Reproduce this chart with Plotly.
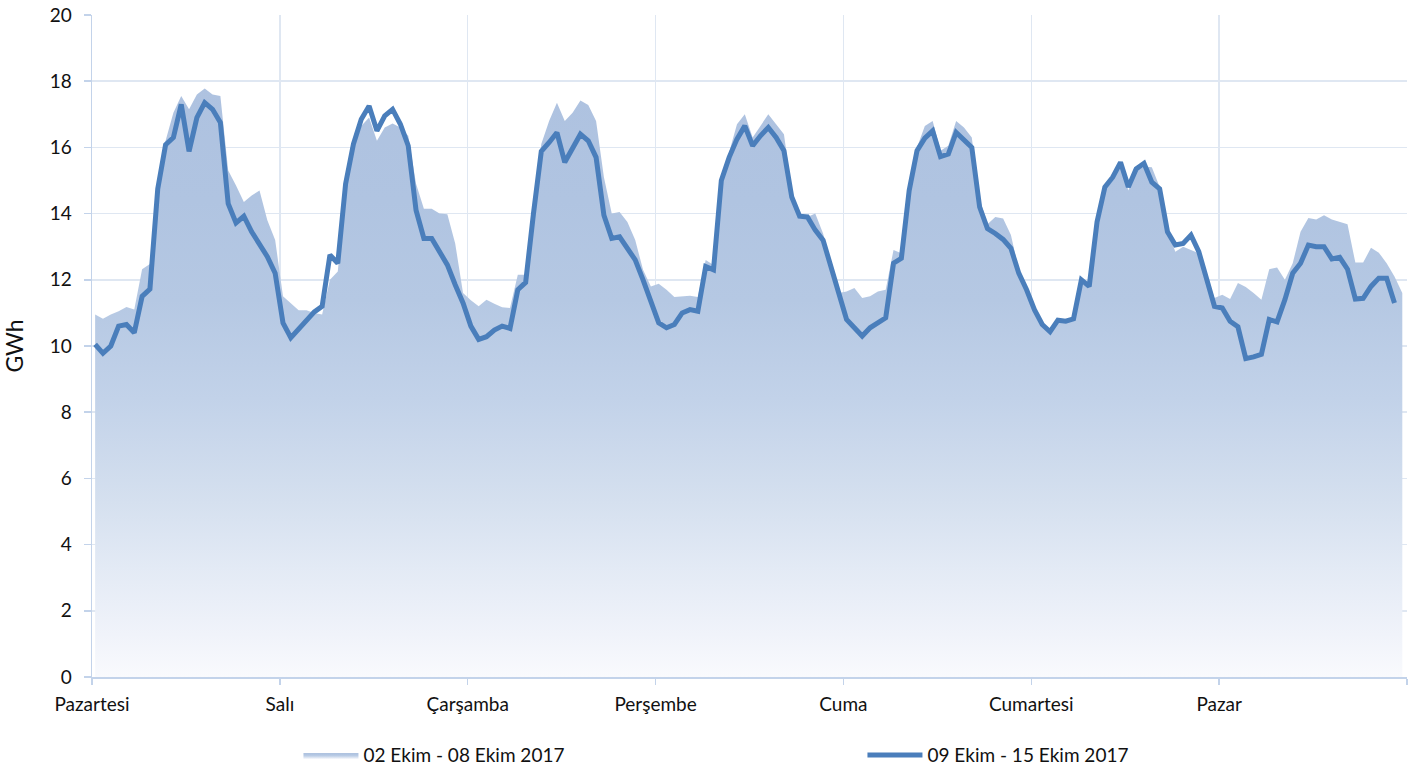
import plotly.graph_objects as go

# Hourly consumption, GWh
days = ["Pazartesi", "Salı", "Çarşamba", "Perşembe", "Cuma", "Cumartesi", "Pazar", ""]

week1_name = "02 Ekim - 08 Ekim 2017"
week1 = [
    # Pazartesi
    10.95, 10.82, 10.95, 11.05, 11.18, 11.1, 12.32, 12.48, 14.8, 16.2, 17.05, 17.55,
    17.15, 17.6, 17.78, 17.6, 17.55, 15.3, 14.85, 14.35, 14.55, 14.7, 13.8, 13.2,
    # Salı
    11.5, 11.28, 11.08, 11.08, 11.0, 10.95, 12.0, 12.25, 14.7, 16.0, 16.65, 16.9,
    16.2, 16.6, 16.72, 16.6, 16.35, 14.9, 14.15, 14.15, 14.0, 13.98, 13.1, 11.6,
    # Çarşamba
    11.38, 11.2, 11.4, 11.28, 11.17, 11.15, 12.15, 12.15, 14.2, 16.1, 16.8, 17.35,
    16.8, 17.05, 17.42, 17.28, 16.8, 15.1, 14.0, 14.05, 13.75, 13.2, 12.3, 11.8,
    # Perşembe
    11.88, 11.7, 11.48, 11.5, 11.52, 11.48, 12.6, 12.45, 15.0, 15.85, 16.7, 17.0,
    16.3, 16.65, 17.0, 16.7, 16.4, 14.7, 13.95, 13.9, 14.0, 13.4, 12.5, 11.6,
    # Cuma
    11.65, 11.75, 11.45, 11.5, 11.65, 11.7, 12.9, 12.8, 15.0, 16.0, 16.65, 16.8,
    15.9, 16.05, 16.8, 16.6, 16.3, 14.45, 13.68, 13.9, 13.85, 13.35, 12.3, 11.7,
    # Cumartesi
    11.1, 10.6, 10.35, 10.7, 10.75, 10.85, 11.9, 11.75, 13.7, 14.7, 15.0, 15.5,
    14.7, 15.3, 15.42, 15.4, 14.8, 13.5, 12.85, 13.0, 12.9, 12.8, 12.1, 11.45,
    # Pazar
    11.55, 11.42, 11.9, 11.78, 11.6, 11.4, 12.32, 12.37, 12.0, 12.5, 13.45, 13.87,
    13.82, 13.95, 13.82, 13.75, 13.68, 12.52, 12.52, 12.97, 12.82, 12.5, 12.1, 11.6,
]

week2_name = "09 Ekim - 15 Ekim 2017"
week2 = [
    # Pazartesi
    10.05, 9.78, 10.0, 10.6, 10.65, 10.4, 11.5, 11.72, 14.75, 16.08, 16.3, 17.3,
    15.88, 16.9, 17.35, 17.15, 16.75, 14.3, 13.72, 13.92, 13.45, 13.05, 12.7, 12.2,
    # Salı
    10.7, 10.25, 10.5, 10.78, 11.03, 11.2, 12.75, 12.5, 14.9, 16.1, 16.85, 17.25,
    16.5, 16.95, 17.15, 16.7, 16.05, 14.1, 13.25, 13.25, 12.85, 12.45, 11.85, 11.3,
    # Çarşamba
    10.6, 10.2, 10.28, 10.48, 10.6, 10.53, 11.7, 11.92, 14.0, 15.88, 16.15, 16.45,
    15.55, 15.95, 16.4, 16.2, 15.7, 13.95, 13.25, 13.3, 12.95, 12.6, 12.0, 11.35,
    # Perşembe
    10.7, 10.55, 10.65, 11.0, 11.1, 11.05, 12.4, 12.3, 15.0, 15.7, 16.25, 16.65,
    16.05, 16.35, 16.6, 16.3, 15.9, 14.5, 13.92, 13.9, 13.5, 13.2, 12.35, 11.6,
    # Cuma
    10.8, 10.55, 10.3, 10.55, 10.7, 10.85, 12.5, 12.65, 14.7, 15.9, 16.28, 16.5,
    15.72, 15.8, 16.45, 16.22, 16.0, 14.2, 13.55, 13.4, 13.22, 12.95, 12.2, 11.7,
    # Cumartesi
    11.1, 10.65, 10.43, 10.78, 10.75, 10.82, 12.0, 11.8, 13.75, 14.8, 15.1, 15.55,
    14.8, 15.35, 15.52, 14.95, 14.75, 13.45, 13.05, 13.1, 13.35, 12.85, 12.05, 11.2,
    # Pazar
    11.15, 10.75, 10.58, 9.62, 9.67, 9.75, 10.8, 10.73, 11.4, 12.2, 12.5, 13.05,
    13.0, 13.0, 12.63, 12.68, 12.32, 11.42, 11.44, 11.8, 12.05, 12.05, 11.3,
]

y_ticks = list(range(0, 21, 2))

hours1 = list(range(len(week1)))
hours2 = list(range(len(week2)))
tick_pos = [i * 24 - 0.4 for i in range(len(days))]

FONT = "Lato"
TXT = "#111111"
GRID = "#dfe7f2"
AXIS = "#c3d3ea"

fig = go.Figure()

fig.add_trace(go.Scatter(
    x=hours1, y=week1, name=week1_name, mode="lines",
    line=dict(width=0, color="rgba(0,0,0,0)"),
    fill="tozeroy",
    fillcolor="#b3c6e2",
    fillgradient=dict(
        type="vertical", start=0, stop=18,
        colorscale=[
            [0.0, "#f9fafd"], [0.072, "#f0f3fa"], [0.183, "#e3eaf5"],
            [0.294, "#d5e0ef"], [0.467, "#c2d2e9"], [0.633, "#b5c8e3"],
            [0.8, "#b0c4e1"], [1.0, "#aec2e0"],
        ],
    ),
    hoverinfo="skip",
))

fig.add_trace(go.Scatter(
    x=hours2, y=week2, name=week2_name, mode="lines",
    line=dict(width=5, color="#4a7ebb"),
    hoverinfo="skip",
))

fig.update_layout(
    width=1416, height=770,
    margin=dict(l=92, r=9, t=15, b=93, autoexpand=False),
    paper_bgcolor="white", plot_bgcolor="white",
    font=dict(family=FONT, size=19, color=TXT),
    showlegend=True,
    legend=dict(
        orientation="h", x=0.157, y=-0.118, xanchor="left", yanchor="middle",
        font=dict(family=FONT, size=19, color=TXT),
        entrywidth=494, entrywidthmode="pixels",
        itemwidth=55, traceorder="normal",
        bgcolor="rgba(0,0,0,0)",
    ),
    xaxis=dict(
        range=[tick_pos[0], tick_pos[-1]],
        tickmode="array", tickvals=tick_pos, ticktext=days,
        showgrid=True, gridcolor=GRID, gridwidth=1.5,
        showline=True, linecolor=AXIS, linewidth=2,
        ticks="outside", ticklen=6, tickcolor=AXIS, tickwidth=1.5,
        ticklabelstandoff=3,
        zeroline=False, fixedrange=True,
        tickfont=dict(family=FONT, size=19, color=TXT),
    ),
    yaxis=dict(
        range=[0, 20],
        tickmode="array", tickvals=y_ticks,
        showgrid=True, gridcolor=GRID, gridwidth=1.5,
        showline=True, linecolor=AXIS, linewidth=1.5,
        ticks="outside", ticklen=7, tickcolor=AXIS, tickwidth=1.5,
        ticklabelstandoff=8,
        zeroline=False, fixedrange=True,
        tickfont=dict(family=FONT, size=19, color=TXT),
        title=dict(text="GWh", font=dict(family=FONT, size=23, color=TXT), standoff=20),
    ),
)

fig.write_html(
    "out.html",
    config={"displayModeBar": False, "staticPlot": True},
    post_script="document.body.style.margin='0';document.body.style.overflow='hidden';",
)
